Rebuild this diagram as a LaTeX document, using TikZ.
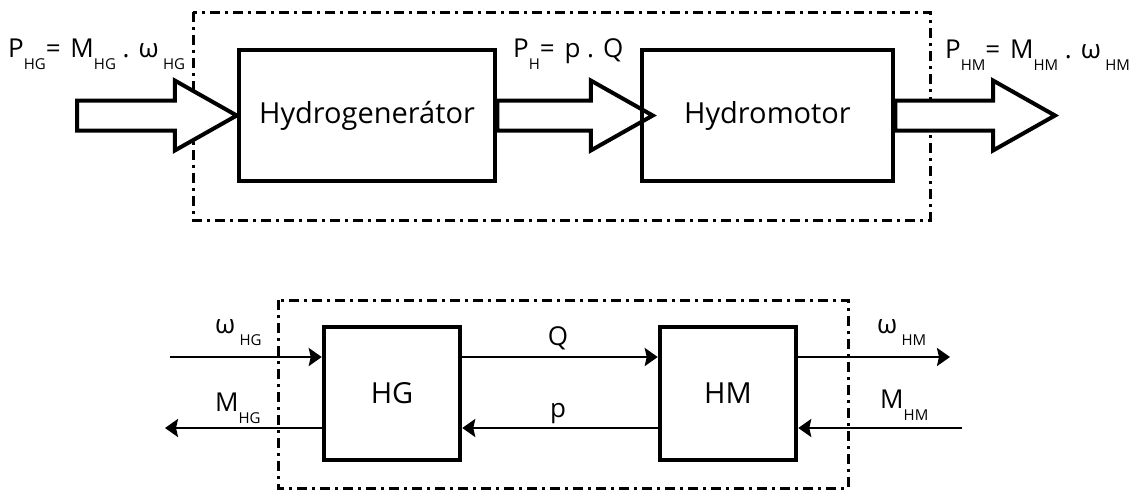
\documentclass[tikz,border=0pt]{standalone}
\usepackage{fontspec}
\setmainfont{Open Sans}
\usetikzlibrary{arrows.meta,calc}
\pgfdeclarelayer{fondo}
\pgfsetlayers{fondo,main}

\newcommand{\ind}[1]{\raisebox{-12pt}{\fontsize{15}{15}\selectfont #1}}

\tikzset{
  bloque/.style={draw, line width=4.5pt, minimum height=131pt, inner sep=0pt, font=\fontsize{29}{34}\selectfont},
  marco/.style={line width=3pt, dash pattern=on 10pt off 5pt on 3pt off 5pt},
  flechagruesa/.style={draw, fill=white, line width=4pt, line join=miter},
  senal/.style={line width=2.5pt, -{Stealth[length=13pt,width=18pt,inset=2pt]}},
  etiqueta/.style={inner sep=0pt, font=\fontsize{26}{30}\selectfont}
}

% flecha hueca: #1 inicio, #2 punta
\newcommand{\flecha}[2]{%
  \draw[flechagruesa] let \p1=(#1), \p2=(#2) in
    (\x1,\y2+15pt) -- (\x2-62pt,\y2+15pt) -- (\x2-62pt,\y2+35pt) -- (\x2,\y2)
    -- (\x2-62pt,\y2-35pt) -- (\x2-62pt,\y2-15pt) -- (\x1,\y2-15pt) -- cycle;}

\begin{document}
\begin{tikzpicture}[x=1pt,y=-1pt]
    \useasboundingbox (0,0) rectangle (1140,491);

    % Bloques
    \node[bloque, minimum width=256pt] (hg) at (367,115.5) {Hydrogenerátor};
    \node[bloque, minimum width=251pt] (hm) at (767.5,115.5) {Hydromotor};
    \node[bloque, minimum width=136pt, minimum height=133pt] (hgb) at (392,393.5) {HG};
    \node[bloque, minimum width=136pt, minimum height=133pt] (hmb) at (728,393.5) {HM};

    % Extremos libres
    \coordinate (entrada) at (77,115.5);
    \coordinate (puntamedia) at ($(hm.west)+(13,0)$);
    \coordinate (salida) at (1055,115.5);
    \coordinate (wentra) at (170,357);
    \coordinate (msale) at (165,428);
    \coordinate (wsale) at (950,357);
    \coordinate (mentra) at (962,428);

    % Marcos y flechas de potencia
    \begin{pgfonlayer}{fondo}
        \draw[marco] (193,12) rectangle (930,220);
        \draw[marco] (278,300) rectangle (848,488);
        \flecha{entrada}{hg.west}
        \flecha{hg.east}{puntamedia}
        \flecha{hm.east}{salida}
    \end{pgfonlayer}

    % Senales
    \draw[senal] (wentra) -- (wentra -| hgb.west);
    \draw[senal] (hgb.west |- msale) -- (msale);
    \draw[senal] (hgb.east |- wentra) -- (hmb.west |- wentra);
    \draw[senal] (hmb.west |- msale) -- (hgb.east |- msale);
    \draw[senal] (hmb.east |- wentra) -- (wsale);
    \draw[senal] (mentra) -- (hmb.east |- mentra);

    % Etiquetas
    \node[etiqueta, anchor=base west] (lphg) at (8,57) {P\ind{HG}=\hspace{3pt} M\ind{HG} . ω\,\ind{HG}};
    \node[etiqueta, anchor=base west] (lph) at (513,57) {P\ind{H}=\hspace{3pt} p . Q};
    \node[etiqueta, anchor=base west] (lphm) at (945,58) {P\ind{HM}=\hspace{3pt} M\ind{HM} . ω\,\ind{HM}};
    \node[etiqueta, anchor=base west] (lwhg) at (215,333) {ω\,\ind{HG}};
    \node[etiqueta, anchor=base west] (lmhg) at (215,411) {M\ind{HG}};
    \node[etiqueta, anchor=base] (lq) at (558,345) {Q};
    \node[etiqueta, anchor=base] (lp) at (558,417) {p};
    \node[etiqueta, anchor=base west] (lwhm) at (877,333) {ω\,\ind{HM}};
    \node[etiqueta, anchor=base west] (lmhm) at (880,408) {M\ind{HM}};
\end{tikzpicture}
\end{document}
